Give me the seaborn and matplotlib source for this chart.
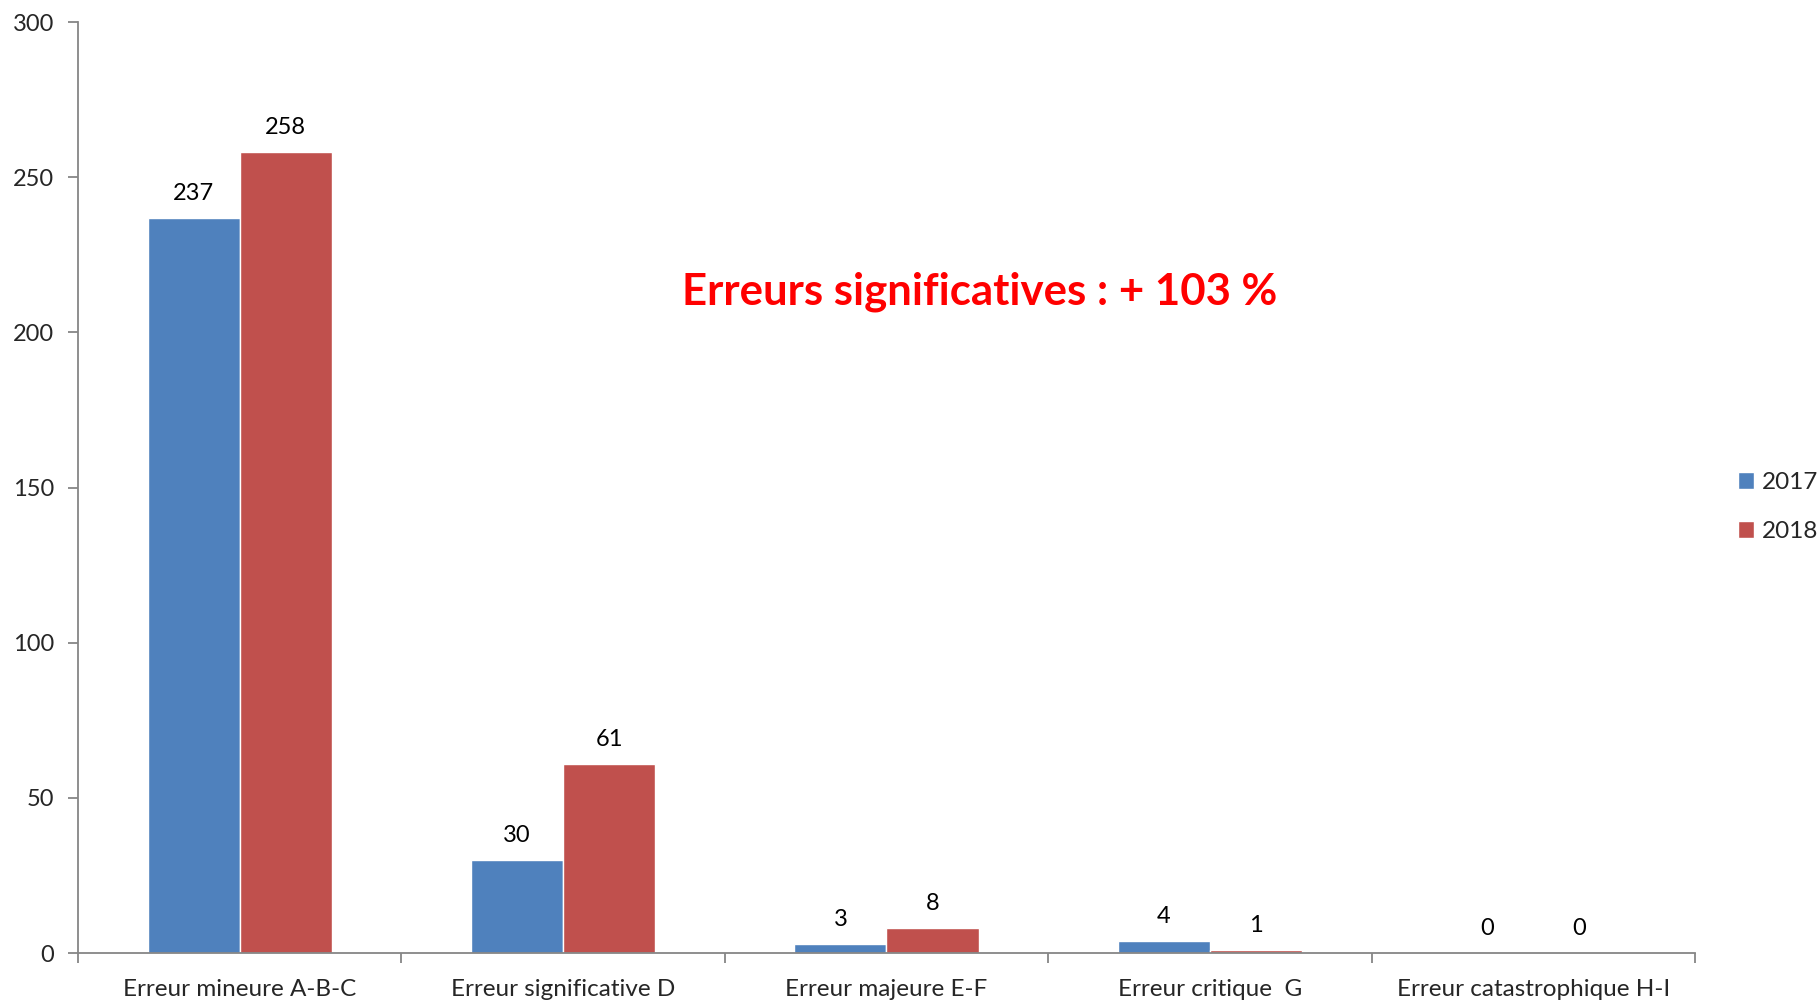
import numpy as np
import pandas as pd
import matplotlib
matplotlib.use('Agg')
import matplotlib.pyplot as plt
import seaborn as sns

# Données du graphique
categories = ['Erreur mineure A-B-C', 'Erreur significative D', 'Erreur majeure E-F',
              'Erreur critique  G', 'Erreur catastrophique H-I']
values_2017 = [237, 30, 3, 4, 0]
values_2018 = [258, 61, 8, 1, 0]
years = ['2017', '2018']
y_ticks = [0, 50, 100, 150, 200, 250, 300]

df = pd.DataFrame({
    'categorie': categories * 2,
    'valeur': values_2017 + values_2018,
    'annee': [years[0]] * len(categories) + [years[1]] * len(categories),
})

sns.set_style('white')
plt.rcParams['font.family'] = ['Lato', 'DejaVu Sans']

fig = plt.figure(figsize=(18.18, 10.02), dpi=100)
ax = fig.add_axes([0.0429, 0.0489, 0.8894, 0.9291])

sns.barplot(data=df, x='categorie', y='valeur', hue='annee',
            palette=['#4F81BD', '#C0504D'], width=0.57, gap=0,
            saturation=1, ax=ax, legend=True)

for cont in ax.containers:
    ax.bar_label(cont, padding=10, fontsize=17, color='black')

ax.set_xlim(-0.5, len(categories) - 0.5)
ax.set_ylim(0, 300)
ax.set_yticks(y_ticks)
ax.set_xlabel('')
ax.set_ylabel('')

# Graduations : étiquettes au centre, traits aux séparations
ax.tick_params(axis='x', which='major', length=0, labelsize=17.5, pad=19)
ax.set_xticks(np.arange(-0.5, len(categories)), minor=True)
ax.tick_params(axis='x', which='minor', length=7, color='#868686', width=1.3, bottom=True)
ax.tick_params(axis='y', length=7, color='#868686', width=1.3, labelsize=17, pad=10, left=True)

for side in ['top', 'right']:
    ax.spines[side].set_visible(False)
for side in ['left', 'bottom']:
    ax.spines[side].set_color('#868686')
    ax.spines[side].set_linewidth(1.3)

# Légende à droite
handles, labels = ax.get_legend_handles_labels()
ax.legend(handles, labels, loc='center left', bbox_to_anchor=(0.956, 0.494),
          bbox_transform=fig.transFigure, frameon=False, fontsize=17.5, borderpad=0,
          borderaxespad=0, handlelength=0.65, handleheight=0.65, handletextpad=0.35,
          labelspacing=1.15)

fig.text(0.539, 0.709, 'Erreurs significatives : + 103 %', color='#FF0000',
         fontsize=31.5, fontweight='bold', ha='center', va='center')

fig.savefig('out.png', dpi=100)
